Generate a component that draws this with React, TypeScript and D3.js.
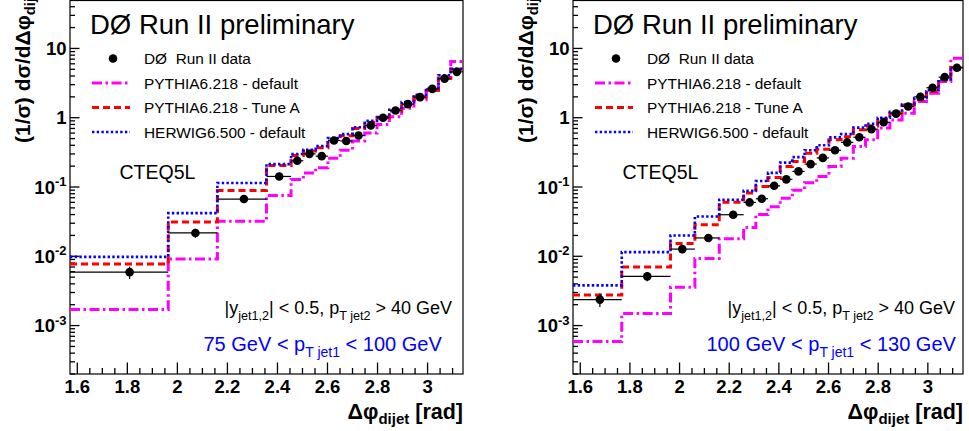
import React from 'react';
import * as d3 from 'd3';

const W = 969;
const H = 431;
const FONT = "'Liberation Sans', Arial, Helvetica, sans-serif";

// ---------- data (bin edges in units of pi/64) ----------
const leftEdgesPi64 = [32, 40, 44, 48, 50, 51, 52, 53, 54, 55, 56, 57, 58, 59, 60, 61, 62, 63, 64];
const leftDataX = [1.809, 2.072, 2.266, 2.407, 2.479, 2.528, 2.577, 2.626, 2.675, 2.724, 2.773, 2.822, 2.872, 2.921, 2.970, 3.019, 3.068, 3.117];
const leftData = [0.0059, 0.0217, 0.067, 0.142, 0.239, 0.301, 0.279, 0.469, 0.462, 0.554, 0.772, 1.0, 1.27, 1.57, 1.98, 2.61, 3.67, 4.59];
const leftDataErr = [0.2, 0.15, 0.06, 0.05, 0.04, 0.04, 0.04, 0.03, 0.03, 0.03, 0.03, 0.03, 0.03, 0.03, 0.03, 0.03, 0.03, 0.03];
const leftPythiaDefault = [0.0017, 0.0091, 0.032, 0.0755, 0.128, 0.159, 0.19, 0.26, 0.34, 0.46, 0.6, 0.8, 1.03, 1.37, 1.81, 2.5, 3.7, 6.45];
const leftPythiaTuneA = [0.00774, 0.0313, 0.089, 0.205, 0.285, 0.33, 0.37, 0.49, 0.55, 0.7, 0.86, 1.0, 1.25, 1.6, 2.0, 2.5, 3.7, 5.0];
const leftHerwig = [0.0098, 0.042, 0.114, 0.214, 0.3, 0.345, 0.39, 0.508, 0.58, 0.73, 0.9, 1.02, 1.3, 1.68, 2.14, 2.67, 4.1, 5.1];

const rightEdgesPi64 = [32, 36, 40, 42, 44, 46, 47, 48, 49, 50, 51, 52, 53, 54, 55, 56, 57, 58, 59, 60, 61, 62, 63, 64];
const rightDataX = [1.679, 1.87, 2.011, 2.116, 2.216, 2.282, 2.331, 2.381, 2.43, 2.479, 2.528, 2.577, 2.626, 2.675, 2.724, 2.773, 2.822, 2.872, 2.921, 2.97, 3.019, 3.068, 3.117];
const rightData = [0.00237, 0.00513, 0.0127, 0.0184, 0.0398, 0.0599, 0.0677, 0.104, 0.129, 0.168, 0.214, 0.263, 0.339, 0.44, 0.522, 0.684, 0.858, 1.145, 1.45, 2.0, 2.71, 3.85, 5.27];
const rightDataErr = [0.22, 0.15, 0.1, 0.07, 0.05, 0.04, 0.04, 0.04, 0.04, 0.03, 0.03, 0.03, 0.03, 0.03, 0.03, 0.03, 0.03, 0.03, 0.03, 0.03, 0.03, 0.03, 0.03];
const rightPythiaDefault = [0.00059, 0.00149, 0.00356, 0.0093, 0.0179, 0.026, 0.04, 0.052, 0.069, 0.09, 0.115, 0.142, 0.198, 0.26, 0.385, 0.48, 0.71, 0.93, 1.16, 1.71, 2.26, 3.33, 7.2];
const rightPythiaTuneA = [0.00277, 0.007, 0.0153, 0.0286, 0.06, 0.082, 0.102, 0.137, 0.198, 0.233, 0.308, 0.352, 0.48, 0.53, 0.67, 0.76, 0.96, 1.16, 1.53, 1.81, 2.39, 3.52, 5.3];
const rightHerwig = [0.0038, 0.0115, 0.02, 0.0376, 0.0655, 0.088, 0.122, 0.16, 0.225, 0.27, 0.34, 0.4, 0.52, 0.58, 0.72, 0.82, 1.0, 1.22, 1.55, 1.92, 2.5, 3.6, 5.0];

const xTickLabels = [1.6, 1.8, 2, 2.2, 2.4, 2.6, 2.8, 3];
const yTickExponents = [-3, -2, -1, 0, 1];
const titleText = 'D\u00D8 Run II preliminary';
const legendLabels = ['D\u00D8  Run II data', 'PYTHIA6.218 - default', 'PYTHIA6.218 - Tune A', 'HERWIG6.500 - default'];
const ptRangeLeft = ['75 GeV < p', 'T jet1', ' < 100 GeV'];
const ptRangeRight = ['100 GeV < p', 'T jet1', ' < 130 GeV'];

// ---------- styles ----------
const STY = {
  pyDef: { stroke: '#ff00ff', width: 3, dash: '10,3.5,2.5,3.5' },
  tuneA: { stroke: '#ff0000', width: 3, dash: '7,4' },
  herwig: { stroke: '#0000ff', width: 2.6, dash: '2.4,2.3' },
};

const Y0 = 0;
const Y1 = 374;

type PanelCfg = {
  id: string;
  x0: number;
  x1: number;
  edges: number[];
  dataX: number[];
  data: number[];
  err: number[];
  pyDef: number[];
  tuneA: number[];
  herwig: number[];
  range: string[];
};

function stepPath(edges: number[], vals: number[], x: any, y: any) {
  let d = '';
  vals.forEach((v, i) => {
    const xa = x(edges[i]);
    const xb = x(edges[i + 1]);
    const yy = y(v);
    d += (i === 0 ? `M${xa},${yy}` : `V${yy}`) + `H${xb}`;
  });
  return d;
}

function Panel({ cfg }: { cfg: PanelCfg }) {
  const x = d3.scaleLinear().domain([Math.PI / 2, Math.PI]).range([cfg.x0, cfg.x1]);
  const y = d3.scaleLog().domain([2e-4, 50]).range([Y1, Y0]);
  const edges = cfg.edges.map((e) => (e * Math.PI) / 64);
  const clipId = `clip-${cfg.id}`;

  const minorX = d3.range(1.6, 3.1401, 0.05).filter((v) => Math.abs(Math.round(v * 5) - v * 5) > 1e-6);
  const minorY: number[] = [];
  for (let e = -4; e <= 1; e++) {
    for (let m = 2; m <= 9; m++) {
      const v = m * Math.pow(10, e);
      if (v >= 2e-4 && v <= 50) minorY.push(v);
    }
  }

  const lx = cfg.x0;
  const rows = [58.5, 83, 107.5, 132];

  return (
    <g>
      <defs>
        <clipPath id={clipId}>
          <rect x={cfg.x0} y={Y0} width={cfg.x1 - cfg.x0} height={Y1 - Y0} />
        </clipPath>
      </defs>
      {/* frame */}
      <rect x={cfg.x0} y={Y0 + 0.5} width={cfg.x1 - cfg.x0} height={Y1 - Y0 - 0.5} fill="white" stroke="black" strokeWidth={1.2} />
      {/* x ticks */}
      {xTickLabels.map((t) => (
        <line key={'xt' + t} x1={x(t)} x2={x(t)} y1={Y1} y2={Y1 - 11.5} stroke="black" strokeWidth={1.3} />
      ))}
      {minorX.map((t, i) => (
        <line key={'xm' + i} x1={x(t)} x2={x(t)} y1={Y1} y2={Y1 - 6} stroke="black" strokeWidth={1.3} />
      ))}
      {xTickLabels.map((t) => (
        <text key={'xl' + t} x={x(t)} y={392.5} textAnchor="middle" fontSize={18.5} fontWeight="bold" fontFamily={FONT}>
          {String(t)}
        </text>
      ))}
      {/* y ticks */}
      {yTickExponents.map((e) => (
        <line key={'yt' + e} x1={cfg.x0} x2={cfg.x0 + 9.5} y1={y(Math.pow(10, e))} y2={y(Math.pow(10, e))} stroke="black" strokeWidth={1.3} />
      ))}
      {minorY.map((v, i) => (
        <line key={'ym' + i} x1={cfg.x0} x2={cfg.x0 + 5} y1={y(v)} y2={y(v)} stroke="black" strokeWidth={1.3} />
      ))}
      {yTickExponents.map((e) => {
        const yy = y(Math.pow(10, e)) + 6.5;
        if (e === 0) {
          return (
            <text key={'yl' + e} x={cfg.x0 - 3.5} y={yy} textAnchor="end" fontSize={18.5} fontWeight="bold" fontFamily={FONT}>1</text>
          );
        }
        if (e === 1) {
          return (
            <text key={'yl' + e} x={cfg.x0 - 3.5} y={yy} textAnchor="end" fontSize={18.5} fontWeight="bold" fontFamily={FONT}>10</text>
          );
        }
        return (
          <text key={'yl' + e} x={cfg.x0 - 3.5} y={yy} textAnchor="end" fontSize={18.5} fontWeight="bold" fontFamily={FONT}>
            10<tspan fontSize={13} dy={-7.5}>{String(e)}</tspan>
          </text>
        );
      })}
      {/* axis titles */}
      <text x={cfg.x1} y={419} textAnchor="end" fontSize={21.5} fontWeight="bold" fontFamily={FONT}>
        {'\u0394\u03C6'}
        <tspan fontSize={15} dy={5}>dijet</tspan>
        <tspan dy={-5}> [rad]</tspan>
      </text>
      <text transform={`translate(${cfg.x0 - 40.5},143) rotate(-90)`} x={0} y={0} textAnchor="start" fontSize={21} fontWeight="bold" fontFamily={FONT}>
        {'(1/\u03C3) d\u03C3/d\u0394\u03C6'}
        <tspan fontSize={15} dy={5}>dijet</tspan>
      </text>

      {/* histograms */}
      <g clipPath={`url(#${clipId})`} fill="none">
        <path d={stepPath(edges, cfg.pyDef, x, y)} stroke={STY.pyDef.stroke} strokeWidth={STY.pyDef.width} strokeDasharray={STY.pyDef.dash} />
        <path d={stepPath(edges, cfg.tuneA, x, y)} stroke={STY.tuneA.stroke} strokeWidth={STY.tuneA.width} strokeDasharray={STY.tuneA.dash} />
        <path d={stepPath(edges, cfg.herwig, x, y)} stroke={STY.herwig.stroke} strokeWidth={STY.herwig.width} strokeDasharray={STY.herwig.dash} />
        {/* data */}
        {cfg.data.map((v, i) => (
          <g key={'d' + i}>
            <line x1={x(edges[i])} x2={x(edges[i + 1])} y1={y(v)} y2={y(v)} stroke="black" strokeWidth={1.2} />
            <line x1={x(cfg.dataX[i])} x2={x(cfg.dataX[i])} y1={y(v * (1 - cfg.err[i]))} y2={y(v * (1 + cfg.err[i]))} stroke="black" strokeWidth={1.2} />
            <circle cx={x(cfg.dataX[i])} cy={y(v)} r={4.3} fill="black" />
          </g>
        ))}
      </g>

      {/* title */}
      <text x={lx + 20} y={33.5} fontSize={27.5} fontFamily={FONT}>{titleText}</text>
      {/* legend */}
      <circle cx={lx + 43} cy={rows[0]} r={4.3} fill="black" />
      <line x1={lx + 22} x2={lx + 60} y1={rows[1]} y2={rows[1]} stroke={STY.pyDef.stroke} strokeWidth={STY.pyDef.width} strokeDasharray={STY.pyDef.dash} />
      <line x1={lx + 22} x2={lx + 60} y1={rows[2]} y2={rows[2]} stroke={STY.tuneA.stroke} strokeWidth={STY.tuneA.width} strokeDasharray={STY.tuneA.dash} />
      <line x1={lx + 22} x2={lx + 60} y1={rows[3]} y2={rows[3]} stroke={STY.herwig.stroke} strokeWidth={STY.herwig.width} strokeDasharray={STY.herwig.dash} />
      {legendLabels.map((l, i) => (
        <text key={'lg' + i} x={lx + 74} y={rows[i] + 5.5} fontSize={15.4} fontFamily={FONT} style={{ whiteSpace: 'pre' }}>
          {l}
        </text>
      ))}
      {/* CTEQ5L */}
      <text x={lx + 49.5} y={179} fontSize={19.5} fontFamily={FONT}>CTEQ5L</text>
      {/* cuts */}
      <text x={lx + 154.5} y={314.3} fontSize={18} fontFamily={FONT}>
        |y<tspan fontSize={12.6} dy={5.5}>jet1,2</tspan>
        <tspan dy={-5.5}>| &lt; 0.5, p</tspan>
        <tspan fontSize={12.6} dy={5.5}>T jet2</tspan>
        <tspan dy={-5.5}> &gt; 40 GeV</tspan>
      </text>
      <text x={lx + 133.5} y={351} fontSize={20} fontFamily={FONT} fill="#0000ff" style={{ whiteSpace: 'pre' }}>
        {cfg.range[0]}
        <tspan fontSize={14} dy={6}>{cfg.range[1]}</tspan>
        <tspan dy={-6}>{cfg.range[2]}</tspan>
      </text>
    </g>
  );
}

export default function App() {
  const left: PanelCfg = {
    id: 'left', x0: 70, x1: 463, edges: leftEdgesPi64, dataX: leftDataX, data: leftData, err: leftDataErr,
    pyDef: leftPythiaDefault, tuneA: leftPythiaTuneA, herwig: leftHerwig, range: ptRangeLeft,
  };
  const right: PanelCfg = {
    id: 'right', x0: 573, x1: 963, edges: rightEdgesPi64, dataX: rightDataX, data: rightData, err: rightDataErr,
    pyDef: rightPythiaDefault, tuneA: rightPythiaTuneA, herwig: rightHerwig, range: ptRangeRight,
  };
  return (
    <svg width={W} height={H} viewBox={`0 0 ${W} ${H}`} style={{ position: 'absolute', left: 0, top: 0, background: 'white' }}>
      <rect x={0} y={0} width={W} height={H} fill="white" />
      <Panel cfg={left} />
      <Panel cfg={right} />
    </svg>
  );
}
